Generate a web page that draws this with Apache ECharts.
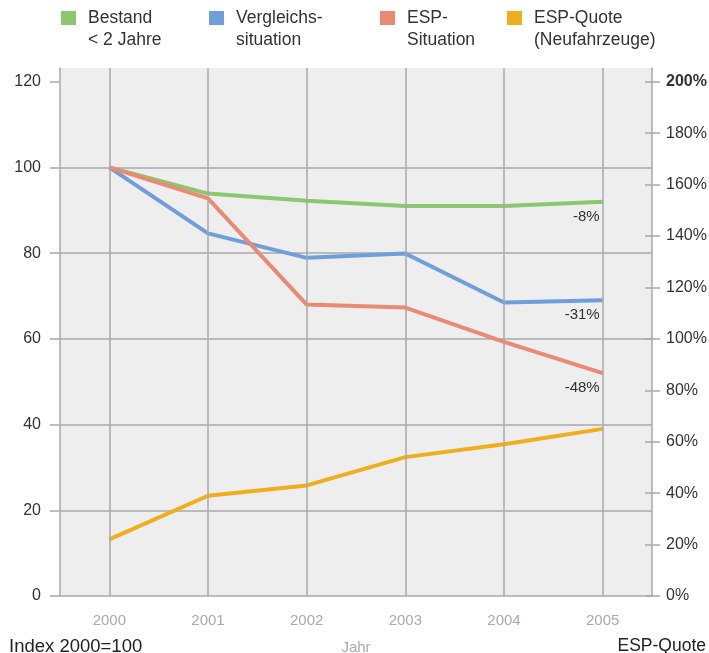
<!DOCTYPE html>
<html>
<head>
<meta charset="utf-8">
<script src="https://cdn.jsdelivr.net/npm/echarts@6/dist/echarts.min.js"></script>
<style>
  html, body { margin: 0; padding: 0; background: #ffffff; }
  #chart { width: 709px; height: 653px; }
</style>
</head>
<body>
<div id="chart"></div>
<script>
// Years on the category axis
const years = ['2000', '2001', '2002', '2003', '2004', '2005'];

// Index series (2000 = 100), left axis
const bestand = [100, 93.9, 92.2, 91.0, 91.0, 92];
const vergleich = [100, 84.6, 78.9, 79.9, 68.5, 69];
const espSituation = [100, 92.8, 68.0, 67.3, 59.3, 52];

// Share of new vehicles with ESP in percent, right axis
const espQuote = [22, 39, 43, 54, 59, 65];

// Tick values
const indexTicks = [0, 20, 40, 60, 80, 100, 120];
const quoteTicks = [0, 20, 40, 60, 80, 100, 120, 140, 160, 180, 200];

const names = ['Bestand\n< 2 Jahre', 'Vergleichs-\nsituation', 'ESP-\nSituation', 'ESP-Quote\n(Neufahrzeuge)'];
const colors = ['#8cc66e', '#6e9edb', '#e98a72', '#efae1c'];

const FONT = 'Liberation Sans, Arial, Helvetica, sans-serif';
const GRID = '#a9a9a9';

// Change against 2000, written below the last point of each index line
const endLabel = {
  show: true,
  align: 'right',
  verticalAlign: 'top',
  distance: -3,
  padding: [7, 0, 0, 0],
  lineHeight: 16,
  color: '#333',
  fontSize: 15,
  fontFamily: FONT,
  formatter: p => Math.round(p.value - 100) + '%'
};

const legendLefts = [61, 209, 380, 507];

const option = {
  animation: false,
  textStyle: { fontFamily: FONT },
  legend: names.map((n, i) => ({
    data: [n],
    left: legendLefts[i],
    top: -15,
    itemWidth: 15,
    itemHeight: 14,
    icon: 'rect',
    padding: 0,
    selectedMode: false,
    // leading empty line keeps the square level with the first text line
    formatter: name => '\n' + name,
    textStyle: {
      color: '#333',
      fontSize: 17.5,
      lineHeight: 22,
      fontFamily: FONT,
      padding: [0, 0, 0, 7]
    }
  })),
  title: [
    { text: 'Index 2000=100', left: 9, top: 637, padding: 0,
      textStyle: { color: '#222', fontSize: 18.5, fontWeight: 'normal', fontFamily: FONT } },
    { text: 'ESP-Quote', right: 3, top: 637, padding: 0,
      textStyle: { color: '#222', fontSize: 17.5, fontWeight: 'normal', fontFamily: FONT } }
  ],
  grid: {
    left: 60, right: 57, top: 68, bottom: 57,
    outerBoundsMode: 'none',
    containLabel: false,
    show: true, backgroundColor: '#eeeeee', borderWidth: 0
  },
  xAxis: {
    type: 'category',
    data: years,
    boundaryGap: true,
    axisLine: { lineStyle: { color: GRID, width: 1.5 } },
    axisTick: { alignWithLabel: true, length: 8, lineStyle: { color: GRID, width: 1.5 } },
    axisLabel: { color: '#aaaaaa', fontSize: 15, margin: 17, fontFamily: FONT },
    splitLine: { show: false },
    name: 'Jahr',
    nameLocation: 'middle',
    nameGap: 44,
    nameTextStyle: { color: '#aaaaaa', fontSize: 15, fontFamily: FONT }
  },
  yAxis: [
    {
      type: 'value', position: 'left', min: 0, max: 123.2,
      axisLine: { show: true, lineStyle: { color: GRID, width: 1.5 } },
      axisTick: { show: true, length: 10, customValues: indexTicks, lineStyle: { color: GRID, width: 1.5 } },
      axisLabel: { customValues: indexTicks, color: '#333', fontSize: 16, margin: 19, fontFamily: FONT },
      splitLine: { show: true, showMinLine: false, showMaxLine: false, lineStyle: { color: GRID, width: 1.5 } }
    },
    {
      type: 'value', position: 'right', min: 0, max: 205.33,
      axisLine: { show: true, lineStyle: { color: GRID, width: 1.5 } },
      axisTick: { show: true, length: 8, customValues: quoteTicks, lineStyle: { color: GRID, width: 1.5 } },
      axisLabel: {
        customValues: quoteTicks, color: '#333', fontSize: 16, margin: 14, fontFamily: FONT,
        formatter: v => v === 200 ? '{b|200%}' : v + '%',
        rich: { b: { fontWeight: 'bold', fontSize: 16, color: '#333', fontFamily: FONT } }
      },
      splitLine: { show: false }
    },
    {
      // inner half of the right-hand tick marks
      type: 'value', position: 'right', min: 0, max: 205.33,
      axisLine: { show: false },
      axisTick: { show: true, inside: true, length: 7, customValues: quoteTicks, lineStyle: { color: GRID, width: 1.5 } },
      axisLabel: { show: false },
      splitLine: { show: false }
    }
  ],
  series: [
    {
      // vertical grid lines at each year
      type: 'line', data: [], z: 1, silent: true,
      markLine: {
        silent: true, symbol: 'none', animation: false,
        label: { show: false },
        lineStyle: { color: GRID, width: 1.5, type: 'solid' },
        data: years.map(y => ({ xAxis: y }))
      }
    },
    {
      name: names[0], type: 'line', yAxisIndex: 0, z: 3,
      data: bestand, symbol: 'none',
      lineStyle: { color: colors[0], width: 4 }, itemStyle: { color: colors[0] },
      endLabel: endLabel
    },
    {
      name: names[1], type: 'line', yAxisIndex: 0, z: 3,
      data: vergleich, symbol: 'none',
      lineStyle: { color: colors[1], width: 4 }, itemStyle: { color: colors[1] },
      endLabel: endLabel
    },
    {
      name: names[2], type: 'line', yAxisIndex: 0, z: 3,
      data: espSituation, symbol: 'none',
      lineStyle: { color: colors[2], width: 4 }, itemStyle: { color: colors[2] },
      endLabel: endLabel
    },
    {
      name: names[3], type: 'line', yAxisIndex: 1, z: 3,
      data: espQuote, symbol: 'none',
      lineStyle: { color: colors[3], width: 4 }, itemStyle: { color: colors[3] }
    }
  ]
};

const chart = echarts.init(document.getElementById('chart'), null, { renderer: 'canvas' });
chart.setOption(option);
</script>
</body>
</html>
